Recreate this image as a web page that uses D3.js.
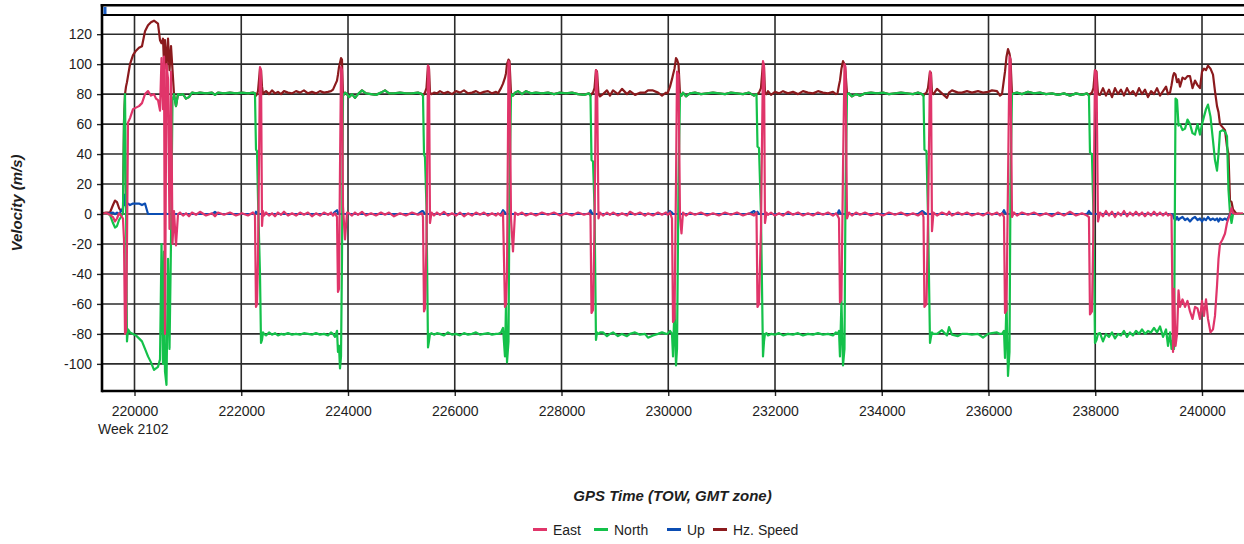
<!DOCTYPE html>
<html><head><meta charset="utf-8">
<script src="https://cdn.jsdelivr.net/npm/d3@7"></script>
<style>
body{margin:0;background:#fff}
svg{display:block}
text{font-family:"Liberation Sans",Arial,sans-serif;fill:#1e1e1e}
</style>
</head><body>
<svg id="chart" width="1244" height="544"></svg>
<script>
// GPS time of week (s)
const tow = [
219391,219466,219541,219597,219635,219672,219710,219747,219784,
219803,219822,219841,219859,219878,219916,219972,220028,220084,220140,220197,220253,220309,220365,220403,220440,220478,
220506,220534,220553,220571,220599,220628,220656,220684,220712,220740,220777,220815,
220852,220909,220965,221021,221077,221152,221227,221339,221452,221508,221564,221677,221789,221901,222014,222126,222220,
222257,222276,222295,222314,222351,222370,222389,222407,222426,
222464,222520,222576,222632,222688,222745,222801,222876,222951,223026,223101,223175,223250,223325,223400,223475,223550,223625,223681,
223719,223756,223794,223812,223831,223850,223869,223887,223906,223944,223981,
224019,224075,224131,224187,224262,224337,224431,224524,224618,224693,224768,224862,224974,225086,225199,225311,225386,
225405,225424,225442,225470,225499,225517,225536,225564,
225611,225667,225723,225798,225873,225948,226023,226098,226173,226248,226323,226398,226473,226548,226623,226698,226773,
226810,226866,226904,226941,226960,226979,227007,227026,227054,227091,227129,
227185,227260,227335,227428,227522,227634,227747,227859,227972,228084,228196,228309,228421,228515,
228543,228562,228590,228618,228646,228665,228693,228721,
228777,228852,228908,228965,229058,229133,229227,229283,229377,229470,229564,229620,229714,229808,229883,229958,
229986,230033,230070,230089,230117,230145,230164,230192,230220,230248,230276,
230332,230407,230501,230613,230726,230838,230950,231063,231175,231288,231400,231512,231606,231653,
231672,231700,231737,231775,231794,231812,231840,
231868,231925,232000,232075,232150,232243,232337,232431,232524,232618,232712,232805,232899,232993,233086,233143,
233171,233199,233217,233245,233274,233302,233321,233349,233386,
233442,233517,233592,233686,233798,233911,234023,234135,234248,234360,234473,234585,234679,234754,
234782,234800,234838,234866,234904,234922,234941,234969,
235035,235128,235222,235260,235316,235428,235503,235597,235690,235803,235897,235990,236065,236159,236215,
236253,236290,236309,236337,236365,236393,236412,236440,236477,
236534,236627,236740,236852,236964,237077,237189,237302,237414,237527,237639,237751,237845,
237882,237901,237938,237966,237995,238023,238051,238089,
238145,238201,238257,238314,238370,238426,238482,238538,238595,238651,238707,238763,238820,238876,238932,238988,239045,239101,239157,239213,239270,239326,239363,239401,239429,
239457,239476,239504,239532,239560,239588,239635,239682,239728,239775,239822,239869,239916,239962,240000,240037,240075,240112,240159,240206,240243,240281,240309,240337,240384,240431,240468,240496,240524,240553,240581,240637,240768
];

const east = [
0,0.6,-0.5,-2,-5,-3,0.5,-1,-3,
-17,-80,-78,-20,61,64,70,71,72,74,80,82,79,80,77,76,69,
104,70,105,-80,100,90,-10,95,-20,2,-21,0,
1,-1,0.5,-1.5,1,-0.5,1.5,-1,0.5,-1.5,1,-0.5,1,-1,0.5,-1,1,
-1,-62,-60,-30,98,96,-8,2,-1,
1,-1,0.5,-1.5,1,-0.5,1.5,-1,0.5,-1,1,-0.5,1,-1.5,0.5,-1,1,-0.5,1,
-1,0.5,-2,-52,-50,30,98,96,5,-17,1,
0.5,-1,1,-0.5,1.5,-1,0.5,-1,1,-0.5,1,-1.5,0.5,-1,1,-0.5,0.5,
-2,-65,-63,-20,99,97,-6,1,
-1,1,-0.5,1.5,-1,0.5,-1,1,-1.5,0.5,-1,1,-0.5,1,-1,0.5,-1,
0.5,-1,1,-62,-60,-40,102,100,-3,-25,1,
-0.5,1,-1,0.5,-1,1,-0.5,1,-1,0.5,-1,1,-0.5,0.5,
-1,-66,-64,-10,96,94,-3,1,
-1,1,-0.5,1,-1,0.5,-1,1.5,-0.5,1,-1,0.5,-1,1,-0.5,1,
-0.5,1,-3,-72,-70,20,95,93,-2,-13,1,
-1,1,-0.5,1,-1,0.5,-1,1,-0.5,1,-1,0.5,-1,1,
-62,-60,-10,102,99,-6,1,
-0.5,1,-1,0.5,-1,1.5,-0.5,1,-1,0.5,-1,1,-0.5,1,-1,0.5,
-1,-3,-59,-57,30,100,98,-3,1,
-1,1,-0.5,1,-1,0.5,-1,1,-0.5,1,-1,0.5,-1,1,
-2,-62,-60,-5,95,93,-11.5,1,
-1,1,-0.5,1.5,-1,1,-0.5,1,-1,0.5,-1,1,-0.5,1,-1,
0.5,-2,-66,-64,20,105,103,-2,1,
-1,1,-0.5,1,-1,0.5,-1.5,1,-1,1.5,-1,0.5,-1,
-2,-67,-65,-10,96,94,-5,1,
-1.5,2,-1,1.5,-2,1,-1,2,-1.5,1,-1,1.5,-1,1,-1.5,1,-1,1.5,-1,1,-1,1,-1,0,-1,
-92,-50,-88,-80,-51,-62,-57,-62,-58,-65,-70,-62,-63,-70,-58,-68,-57,-70,-79,-77,-68,-48,-30,-20,-17,-13,-6,-3,0,4,0.5,0,0.5
];

const north = [
0,0.3,-0.5,-6,-9,-8,-4,-2,1,
60,80,10,-85,-77,-79,-80,-81,-83,-85,-90,-95,-99,-104,-103,-102,-97,
-20,-100,-25,-105,-114,-30,-90,-18,76,80,72,80,
79.5,80,77,78,81,80.5,81,80.5,81,79.5,81,80.5,81,80.5,81,80.5,81,
80.5,43,42,10,-40,-86,-84,-79,-80,
-81,-79,-80.5,-79.5,-81,-80,-80.5,-79.5,-80.5,-80,-80.5,-79.5,-80,-80.5,-79.5,-80.5,-80,-81,-79,
-80,-82,-78,-92,-88,-103,-95,-30,79,81,80,
78,80,77.5,80,82.5,80.5,80,79.5,81,82.5,80.5,80.5,81,80.5,80.5,81,80,
79,40,38,5,-89,-85,-80,-79.5,
-80.5,-79.5,-80,-81,-79,-80.5,-80,-81,-79.5,-80.5,-80,-79,-80.5,-80,-79.5,-80.5,-80,
-80,-79,-76,-95,-60,-99,-85,16,80,79,81,
82,80,82,80.5,81,80.5,81,80,81,80.5,81,80,79.5,80.5,
79,36,35,5,-84,-79,-80,-79,
-79,-81.5,-80,-79,-81.5,-80,-81.5,-80,-79,-80.5,-80,-82.5,-81,-80,-79,-80,
-80,-78,-80,-95,-60,-101,-90,20,80,79,81,
78.5,80.5,81,80,80.5,81,80.5,80,81,80.5,80,81,79,80,
45,44,0,-95,-85,-80,-79.5,
-81,-80,-80.5,-79.5,-81,-80,-80.5,-79.5,-81,-80,-80.5,-79.5,-80.5,-80,-81,-79,
-80,-78,-95,-58,-101,-90,15,80,80.5,
78.5,80,79,80.5,81,80.5,81,80,80.5,81,80.5,80,81,80,
79,43,42,0,-86,-82,-79,-80,
-80,-77.5,-81,-75.5,-80.5,-81.5,-80,-80,-80.5,-80,-82.5,-80,-79.5,-79,-80,
-80,-78,-96,-58,-108,-92,20,80,80.5,
81,80,81.5,80.5,81,80,80.5,79.5,80.5,79,80.5,79.5,80.5,
79,41,40,0,-86,-84,-80,-79.5,
-85,-80,-82,-79,-83,-80,-81,-78,-82,-79,-81,-78,-80,-77,-80,-78,-79,-76,-79,-75,-82,-77,-88,-79,-90,
-84,-90,77,76,59,60,56,57,63,60,54,53,60,53,60,65,70,73,65,49,36,29,40,55,56,55,52,16,1,-6,0,0,0
];

const up = [
0,0,0.5,1,0,1,0,2,4,
13,6,7,7,7,6,7,7,7,6,7,0,0,0,0,0,0,
0,0,0,1,0,0,0,0,0,0,0,0,
0,0,0,0,0,0,0,0,0,1.5,0,0,0,0,0,0,0,
0,1.5,1,0,0,0,0,0,0,
0,0,0,0,0,0,0,0,0,0,0,0,0,0,0,0,0,0,0,
0,1.5,2.5,1,0,0,0,0,0,0,0,
0,0,0,0,0,0,0,0,0,0,0,0,0,0,0,0,2,
2,1,0,0,0,0,0,0,
0,0,0,0,0,0,0,0,0,0,0,0,0,0,0,0,0,
0,0,2.5,1,0,0,0,0,0,0,0,
0,0,0,0,0,0,0,0,0,0,0,0,0,0,
2.5,1,0,0,0,0,0,0,
0,0,0,0,0,0,0,0,0,0,0,0,0,0,0,0,
0,2,1,0,0,0,0,0,0,0,0,
0,0,0,0,0,0,0,0,0,0,0,0,2,0,
1.5,0,0,0,0,0,0,
0,0,0,0,0,0,0,0,0,0,0,0,0,0,0,0,
0,2.5,1,0,0,0,0,0,0,
0,0,0,0,0,0,0,0,0,0,0,0,0,2,
1.5,1,0,0,0,0,0,0,
0,0,0,0,0,0,0,0,0,0,0,0,0,0,0,
0,2.5,1,0,0,0,0,0,0,
0,0,0,0,0,0,0,0,0,0,0,0,0,
2,1,0,0,0,0,0,0,
0,0,0,0,0,0,0,0,0,0,0,0,0,0,0,0,0,0,0,0,0,0,0,0,0,
-1,-3,-4,-2,-4,-3,-2,-4,-3,-5,-3,-2,-4,-3,-5,-3,-4,-2,-4,-3,-4,-3,-5,-3,-4,-3,-4,-2,0,0,0,0,0
];

const hzSpeed = [
0.5,1,1,6,9,8,4,2,3,
62,80,85,88,92,100,106,109,111,112,122,126,128,129,128,127,116,
114,117,100,116,97,117,96,112,96,80,72,80,
79.5,80,77,78,81,80.5,81,80.5,81,79.5,81,80.5,81,80.5,81,80.5,81,
80.5,79,80,82,97,96,85,80,81,
82,80,82.5,80.5,81.5,80,82,81,80.5,82,81,82.5,80.5,81.5,80.5,82,81,81.5,82,
83,86,89,93,98,101,104,103,79,81,80,
78,80,77.5,80,82.5,80.5,80,79.5,81,82.5,80.5,80.5,81,80.5,80.5,81,80,
79,80,81,84,99,97,81,80,
81,80.5,82,80.5,81.5,80,82,81,82.5,80.5,81,82,80.5,81.5,82,80.5,81.5,
80.5,84,87,91,94,100,103,102,80,79,81,
82,80,82,80.5,81,80.5,81,80,81,80.5,81,80,79.5,80.5,
79,80,81,84,96,95,80,78.5,
80,82.5,79,82.5,80,83.5,80,82,79.5,81,81,82.5,82.5,81,79,81,
80.5,85,90,93,97,104,103,100,80,79,81,
78.5,80.5,81,80,80.5,81,80.5,80,81,80.5,80,81,79,80,
80,81,84,101,98,81,80,
82,79.5,81.5,80.5,82,80.5,81.5,80,82,81,80.5,82,81,80.5,81.5,80,
80.5,86,89,97,102,100,95,80,80.5,
78.5,80,79,80.5,81,80.5,81,80,80.5,81,80.5,80,81,80,
79,80,81,84,95,94,81,80,
83.5,80.5,77.5,81,82.5,81,81,82,81,82,81,81.5,82.5,82,79,
80,90,95,105,110,107,103,80,80.5,
81,80,81.5,80.5,81,80,80.5,79.5,80.5,79,80.5,79.5,80.5,
79,80,81,84,96,95,80,79.5,
84,79,83,78,84,80,83,79,84,80,82,79,84,80,83,78,82,80,84,79,82,85,80,81,86,
92,94,93,88,90,85,91,90,92,92,84,89,86,84,95,97,96,99,97,93,82,72,68,60,58,56,45,40,9,8,3,0.5,0
];

const yTickValues = [-100,-80,-60,-40,-20,0,20,40,60,80,100,120];
const xTickValues = [220000,222000,224000,226000,228000,230000,232000,234000,236000,238000,240000];
const weekLabel = "Week 2102";
const xTitle = "GPS Time (TOW, GMT zone)";
const yTitle = "Velocity (m/s)";
const seriesNames = ["East","North","Up","Hz. Speed"];
const seriesColors = ["#e0356a","#14c14a","#0b4db3","#8b1a1d"];

const svg = d3.select("#chart");
const L = 102, R = 1243, T = 15, B = 391;
const x = d3.scaleLinear().domain([219391, 240768]).range([L, R]);
const y = d3.scaleLinear().domain([-118.1, 132.8]).range([B, T]);

svg.append("rect").attr("width",1244).attr("height",544).attr("fill","#fff");

svg.append("defs").append("clipPath").attr("id","plotclip")
  .append("rect").attr("x",L).attr("y",T).attr("width",R-L+2).attr("height",B-T);

// grid
const grid = svg.append("g");
grid.selectAll("line.h").data(yTickValues).join("line")
  .attr("x1",L).attr("x2",1244).attr("y1",d=>y(d)).attr("y2",d=>y(d))
  .attr("stroke","#2b2b2b").attr("stroke-width",1.6);
grid.selectAll("line.v").data(xTickValues).join("line")
  .attr("x1",d=>x(d)).attr("x2",d=>x(d)).attr("y1",T).attr("y2",B)
  .attr("stroke","#2b2b2b").attr("stroke-width",1.6);

// series
const n = Math.min(tow.length, east.length, north.length, up.length, hzSpeed.length);
if (tow.length!==east.length||tow.length!==north.length||tow.length!==up.length||tow.length!==hzSpeed.length)
  console.warn("length mismatch", tow.length, east.length, north.length, up.length, hzSpeed.length);
const idx = d3.range(n);
const seriesData = [east, north, up, hzSpeed];
const plot = svg.append("g").attr("clip-path","url(#plotclip)");
[3,2,1,0].forEach(k => {
  const vals = seriesData[k];
  const line = d3.line().x(i => x(tow[i])).y(i => y(vals[i]));
  plot.append("path").datum(idx).attr("d", line)
    .attr("fill","none").attr("stroke",seriesColors[k]).attr("stroke-width",2.2)
    .attr("stroke-linejoin","round");
});

// axes
const yAxis = d3.axisLeft(y).tickValues(yTickValues).tickSize(5).tickSizeOuter(0).tickPadding(5)
  .tickFormat(d => String(d));
const gy = svg.append("g").attr("transform",`translate(${L},0)`).call(yAxis);
gy.select(".domain").remove();
gy.selectAll(".tick line").attr("stroke","#222").attr("stroke-width",1.4);
gy.selectAll(".tick text").attr("font-size",14).style("font-family","'Liberation Sans',Arial,sans-serif").attr("fill","#1e1e1e");

const xAxis = d3.axisBottom(x).tickValues(xTickValues).tickSize(5).tickSizeOuter(0).tickPadding(10)
  .tickFormat(d3.format("d"));
const gx = svg.append("g").attr("transform",`translate(0,${B})`).call(xAxis);
gx.select(".domain").remove();
gx.selectAll(".tick line").attr("stroke","#222").attr("stroke-width",1.4);
gx.selectAll(".tick text").attr("font-size",14).style("font-family","'Liberation Sans',Arial,sans-serif").attr("fill","#1e1e1e");

// frame
svg.append("line").attr("x1",L).attr("x2",1244).attr("y1",B).attr("y2",B).attr("stroke","#000").attr("stroke-width",2.6);
svg.append("line").attr("x1",L).attr("x2",L).attr("y1",4).attr("y2",B+1.3).attr("stroke","#000").attr("stroke-width",2.6);
svg.append("line").attr("x1",L-1.3).attr("x2",1244).attr("y1",5.3).attr("y2",5.3).attr("stroke","#000").attr("stroke-width",2.6);
svg.append("line").attr("x1",L).attr("x2",1244).attr("y1",T).attr("y2",T).attr("stroke","#000").attr("stroke-width",2);
svg.append("rect").attr("x",L+1.5).attr("y",7).attr("width",3).attr("height",7).attr("fill","#1a5fc8");

// labels
svg.append("text").attr("x",98).attr("y",434).attr("font-size",14).text(weekLabel);
svg.append("text").attr("x",672.5).attr("y",501).attr("text-anchor","middle")
  .attr("font-size",15).attr("font-weight","bold").attr("font-style","italic").text(xTitle);
svg.append("text").attr("transform","translate(22,203) rotate(-90)").attr("text-anchor","middle")
  .attr("font-size",15).attr("font-weight","bold").attr("font-style","italic").text(yTitle);

// legend
const legendX = [533, 594, 667, 713];
const lg = svg.append("g");
seriesNames.forEach((name, k) => {
  lg.append("line").attr("x1",legendX[k]).attr("x2",legendX[k]+14).attr("y1",529.5).attr("y2",529.5)
    .attr("stroke",seriesColors[k]).attr("stroke-width",3);
  lg.append("text").attr("x",legendX[k]+20).attr("y",534.5).attr("font-size",14).text(name);
});
</script>
</body></html>
